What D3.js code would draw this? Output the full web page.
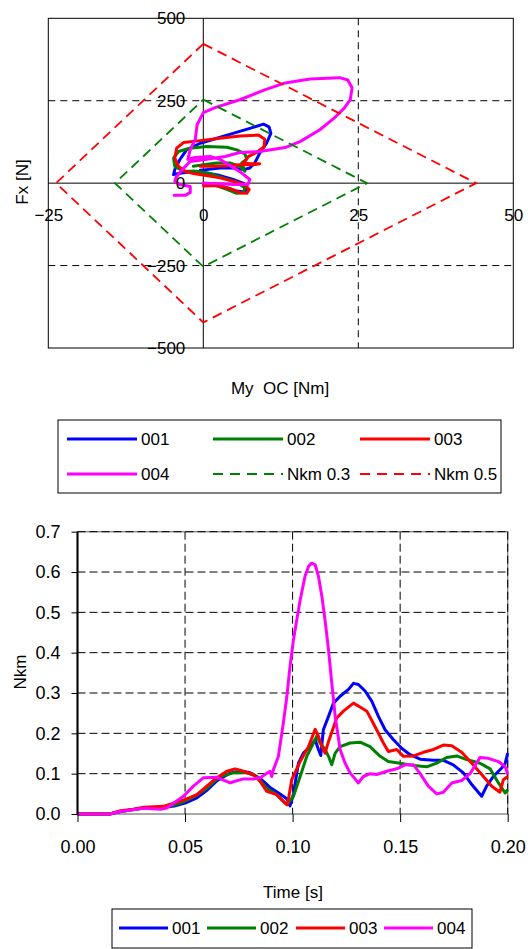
<!DOCTYPE html>
<html>
<head>
<meta charset="utf-8">
<script src="https://cdn.jsdelivr.net/npm/d3@7"></script>
<style>
  body { margin: 0; background: #fff; }
  text { font-family: "Liberation Sans Narrow", "Liberation Sans", Arial, sans-serif; fill: #000; }
</style>
</head>
<body>
<script>
const width = 528
const height = 949

// top chart: My OC [Nm] vs Fx [N]
const xTicksTop = [-25, 0, 25, 50]
const yTicksTop = [-500, -250, 0, 250, 500]
const traj001 = [[0,0],[1.6,-2],[3.8,-14],[5.4,-24],[6.5,-27],[7.1,-17],[6.5,-1],[4.8,11],[2.7,23],[0.5,31],[-1.6,36],[-3.5,31],[-4.8,26],[-4.6,41],[-3.8,71],[-2.7,101],[-0.5,121],[2.2,136],[4.8,151],[7.5,166],[9.7,179],[10.6,171],[10.9,151],[10.2,121],[9.1,91],[8.3,61],[7.5,46],[6.5,41],[4.8,46],[2.7,46],[0.5,41],[-0.5,39]]
const traj002 = [[0,0],[1.6,-4],[3.8,-19],[5.4,-31],[6.5,-29],[6.7,-14],[5.4,3],[3.2,16],[1.1,29],[-1.1,36],[-3.2,36],[-4.6,51],[-4.8,76],[-4.0,96],[-2.2,106],[0.5,111],[3.8,109],[5.4,101],[6.7,89],[7.0,73],[6.2,61],[6.5,46],[6.7,36],[5.9,51],[4.3,61],[2.2,61],[0,56],[-1.6,51]]
const traj003 = [[0,0],[0.1,-9],[2.2,-7],[4.3,-17],[5.9,-29],[7.0,-31],[7.4,-19],[6.7,-4],[4.8,6],[2.7,16],[0.5,23],[-1.6,29],[-3.0,36],[-4.0,51],[-4.6,76],[-4.3,106],[-3.2,123],[-0.5,129],[2.7,136],[5.9,143],[8.9,146],[9.9,133],[9.8,111],[8.6,93],[7.3,81],[6.5,61],[7.5,59],[9.1,59],[8.1,56],[5.9,56],[3.8,53],[1.6,51],[-0.5,51]]
const traj004 = [[0,0],[1.9,-1],[5.1,-4],[7.2,-4],[7.5,11],[5.9,35],[4.0,57],[2.7,72],[1.1,81],[-1.3,78],[-2.5,72],[-2.1,102],[-1.3,132],[-1.0,177],[0,214],[1.9,229],[5.9,253],[9.9,283],[13.2,304],[17.2,316],[22.0,320],[23.3,313],[24.0,289],[23.7,253],[22.8,229],[21.2,199],[18.8,162],[15.6,126],[13.2,108],[9.1,96],[5.9,93],[3.5,81],[0.3,72],[-2.1,66],[-3.4,41],[-4.4,17],[-4.6,5],[-3.8,-4],[-2.1,-10],[-2.1,-28],[-2.9,-37],[-4.7,-37]]
const nkm03 = [[0,253.5],[26.4,0],[0,-253.5],[-14.25,0],[0,253.5]]
const nkm05 = [[0,422.5],[44,0],[0,-422.5],[-23.75,0],[0,422.5]]

// bottom chart: Nkm vs time
const xTicksBot = [0, 0.05, 0.10, 0.15, 0.20]
const yTicksBot = [0, 0.1, 0.2, 0.3, 0.4, 0.5, 0.6, 0.7]
const nkm001 = [[0,0],[0.015,0],[0.02,0.006],[0.026,0.011],[0.031,0.015],[0.04,0.017],[0.045,0.02],[0.05,0.027],[0.0555,0.04],[0.06,0.058],[0.065,0.083],[0.071,0.102],[0.0756,0.106],[0.08,0.103],[0.085,0.088],[0.0895,0.066],[0.094,0.05],[0.0973,0.038],[0.0988,0.02],[0.1004,0.05],[0.1027,0.126],[0.105,0.151],[0.1081,0.167],[0.1105,0.184],[0.112,0.16],[0.1131,0.145],[0.1143,0.209],[0.1167,0.242],[0.119,0.275],[0.1221,0.292],[0.126,0.309],[0.1283,0.324],[0.1306,0.321],[0.1337,0.305],[0.1368,0.28],[0.1399,0.242],[0.143,0.209],[0.1469,0.184],[0.1507,0.163],[0.1546,0.147],[0.1593,0.136],[0.1655,0.133],[0.1701,0.133],[0.1747,0.122],[0.1794,0.102],[0.1833,0.073],[0.1879,0.044],[0.1902,0.069],[0.1933,0.093],[0.1972,0.114],[0.1988,0.125],[0.2,0.151]]
const nkm002 = [[0,0],[0.015,0],[0.02,0.006],[0.026,0.011],[0.031,0.015],[0.04,0.017],[0.045,0.022],[0.0497,0.031],[0.055,0.045],[0.0601,0.064],[0.0663,0.093],[0.0725,0.102],[0.0787,0.102],[0.0833,0.093],[0.088,0.064],[0.0926,0.048],[0.0973,0.023],[0.1004,0.044],[0.1035,0.093],[0.1066,0.143],[0.1097,0.176],[0.1112,0.193],[0.1128,0.176],[0.1151,0.16],[0.1167,0.143],[0.1182,0.122],[0.1198,0.151],[0.1221,0.167],[0.1267,0.176],[0.1314,0.178],[0.136,0.167],[0.1407,0.143],[0.1445,0.13],[0.15,0.126],[0.1562,0.12],[0.1624,0.117],[0.167,0.126],[0.1716,0.14],[0.1763,0.144],[0.1809,0.135],[0.1871,0.126],[0.1918,0.112],[0.1957,0.077],[0.1988,0.052],[0.2,0.06]]
const nkm003 = [[0,0],[0.015,0],[0.02,0.008],[0.026,0.012],[0.0307,0.017],[0.04,0.019],[0.0446,0.027],[0.0497,0.035],[0.0555,0.048],[0.0601,0.069],[0.0648,0.09],[0.0694,0.106],[0.0733,0.112],[0.0771,0.106],[0.0818,0.098],[0.0849,0.081],[0.088,0.056],[0.0926,0.048],[0.0965,0.027],[0.0976,0.023],[0.0996,0.085],[0.1035,0.13],[0.1074,0.167],[0.1105,0.21],[0.112,0.193],[0.1136,0.167],[0.1151,0.151],[0.1167,0.18],[0.1205,0.238],[0.1236,0.255],[0.1283,0.275],[0.1321,0.263],[0.1345,0.255],[0.1383,0.217],[0.1422,0.176],[0.1445,0.155],[0.1484,0.16],[0.1515,0.143],[0.1562,0.144],[0.1608,0.153],[0.1655,0.16],[0.1701,0.171],[0.174,0.169],[0.1786,0.153],[0.1833,0.126],[0.1879,0.098],[0.1926,0.069],[0.1964,0.054],[0.198,0.085],[0.2,0.093]]
const nkm004 = [[0,0],[0.015,0],[0.02,0.006],[0.031,0.014],[0.0386,0.012],[0.0415,0.015],[0.0448,0.027],[0.0493,0.044],[0.0539,0.069],[0.0586,0.09],[0.0648,0.091],[0.071,0.077],[0.0725,0.08],[0.0771,0.087],[0.0818,0.087],[0.0849,0.09],[0.0872,0.098],[0.0895,0.106],[0.0903,0.093],[0.0911,0.11],[0.0934,0.143],[0.0957,0.226],[0.0973,0.29],[0.0988,0.366],[0.1004,0.432],[0.1019,0.48],[0.1035,0.53],[0.1058,0.59],[0.1074,0.614],[0.1089,0.622],[0.1105,0.618],[0.112,0.59],[0.1136,0.54],[0.1151,0.48],[0.1167,0.407],[0.1182,0.325],[0.1198,0.242],[0.1221,0.16],[0.1244,0.126],[0.1267,0.102],[0.1306,0.077],[0.1329,0.093],[0.136,0.1],[0.1391,0.098],[0.1438,0.106],[0.1484,0.112],[0.1523,0.122],[0.1562,0.122],[0.1593,0.1],[0.1631,0.069],[0.167,0.05],[0.1701,0.054],[0.174,0.077],[0.1786,0.083],[0.1825,0.1],[0.1871,0.14],[0.191,0.138],[0.1957,0.13],[0.1988,0.118],[0.2,0.098]]

const seriesNames = ['001', '002', '003', '004']
const seriesColors = ['#0000ff', '#008000', '#ff0000', '#ff00ff']

const svg = d3.select('body')
        .append('svg')
        .attr('width', width)
        .attr('height', height)

// ---------- top chart ----------
const xTop = d3.scaleLinear().domain([-25, 50]).range([48.3, 513.3])
const yTop = d3.scaleLinear().domain([-500, 500]).range([348, 18.3])

const topChart = svg.append('g')

topChart.append('rect')
        .attr('x', xTop(-25)).attr('y', yTop(500))
        .attr('width', xTop(50) - xTop(-25)).attr('height', yTop(-500) - yTop(500))
        .attr('fill', 'none').attr('stroke', '#000').attr('stroke-width', 1)

topChart.selectAll('.hgrid')
        .data([-250, 250])
        .join('line')
        .attr('x1', xTop(-25)).attr('x2', xTop(50))
        .attr('y1', d => yTop(d)).attr('y2', d => yTop(d))
        .attr('stroke', '#000').attr('stroke-dasharray', '7,5')

topChart.append('line')
        .attr('x1', xTop(25)).attr('x2', xTop(25))
        .attr('y1', yTop(500)).attr('y2', yTop(-500))
        .attr('stroke', '#000').attr('stroke-dasharray', '7,5')

topChart.append('line')
        .attr('x1', xTop(-25)).attr('x2', xTop(50))
        .attr('y1', yTop(0)).attr('y2', yTop(0))
        .attr('stroke', '#000')
topChart.append('line')
        .attr('x1', xTop(0)).attr('x2', xTop(0))
        .attr('y1', yTop(500)).attr('y2', yTop(-500))
        .attr('stroke', '#000')

const lineTop = d3.line().x(d => xTop(d[0])).y(d => yTop(d[1]))

;[traj001, traj002, traj003, traj004].forEach((s, i) => {
    topChart.append('path')
        .datum(s)
        .attr('d', lineTop)
        .attr('fill', 'none')
        .attr('stroke', seriesColors[i])
        .attr('stroke-width', 3)
        .attr('stroke-linejoin', 'round')
        .attr('stroke-linecap', 'round')
})

topChart.append('path').datum(nkm03).attr('d', lineTop)
        .attr('fill', 'none').attr('stroke', '#008000').attr('stroke-width', 1.8).attr('stroke-dasharray', '10,6')
topChart.append('path').datum(nkm05).attr('d', lineTop)
        .attr('fill', 'none').attr('stroke', '#ff0000').attr('stroke-width', 1.8).attr('stroke-dasharray', '10,6')

const yAxisTop = d3.axisLeft(yTop).tickValues(yTicksTop).tickSize(0).tickPadding(18).tickFormat(d3.format('d'))
topChart.append('g')
        .attr('transform', `translate(${xTop(0)},0)`)
        .call(yAxisTop)
        .call(g => g.select('.domain').remove())
        .selectAll('text').attr('font-size', 17).style('font-family', null)

const xAxisTop = d3.axisBottom(xTop).tickValues(xTicksTop).tickSize(0).tickPadding(26).tickFormat(d3.format('d'))
topChart.append('g')
        .attr('transform', `translate(0,${yTop(0)})`)
        .call(xAxisTop)
        .call(g => g.select('.domain').remove())
        .selectAll('text').attr('font-size', 17).style('font-family', null)

svg.append('text')
        .text('Fx [N]')
        .attr('font-size', 17)
        .attr('text-anchor', 'middle')
        .attr('transform', 'translate(28,182) rotate(-90)')

svg.append('text')
        .text('My  OC [Nm]')
        .style('white-space', 'pre')
        .attr('font-size', 17)
        .attr('text-anchor', 'middle')
        .attr('x', 280).attr('y', 394)

// legend 1
const legend1 = svg.append('g')
legend1.append('rect')
        .attr('x', 58).attr('y', 420).attr('width', 443).attr('height', 73)
        .attr('fill', '#fff').attr('stroke', '#000')
const legend1Items = [
    {name: '001', color: '#0000ff', dash: null, x: 67, y: 439},
    {name: '002', color: '#008000', dash: null, x: 213, y: 439},
    {name: '003', color: '#ff0000', dash: null, x: 360, y: 439},
    {name: '004', color: '#ff00ff', dash: null, x: 67, y: 474},
    {name: 'Nkm 0.3', color: '#008000', dash: '10,7', x: 213, y: 474},
    {name: 'Nkm 0.5', color: '#ff0000', dash: '10,7', x: 360, y: 474}
]
legend1.selectAll('line')
        .data(legend1Items)
        .join('line')
        .attr('x1', d => d.x).attr('x2', d => d.x + 70)
        .attr('y1', d => d.y).attr('y2', d => d.y)
        .attr('stroke', d => d.color)
        .attr('stroke-width', d => d.dash ? 2 : 3)
        .attr('stroke-dasharray', d => d.dash)
legend1.selectAll('text')
        .data(legend1Items)
        .join('text')
        .text(d => d.name)
        .attr('x', d => d.x + 74).attr('y', d => d.y)
        .attr('dy', '0.36em')
        .attr('font-size', 17)

// ---------- bottom chart ----------
const xBot = d3.scaleLinear().domain([0, 0.2]).range([77.5, 507.7])
const yBot = d3.scaleLinear().domain([0, 0.7]).range([814, 531.7])

const botChart = svg.append('g')

botChart.append('rect')
        .attr('x', xBot(0)).attr('y', yBot(0.7))
        .attr('width', xBot(0.2) - xBot(0)).attr('height', yBot(0) - yBot(0.7))
        .attr('fill', 'none').attr('stroke', '#8c8c8c').attr('stroke-width', 1.5)

botChart.selectAll('.hgrid')
        .data(yTicksBot.slice(1))
        .join('line')
        .attr('x1', xBot(0)).attr('x2', xBot(0.2))
        .attr('y1', d => yBot(d)).attr('y2', d => yBot(d))
        .attr('stroke', '#000').attr('stroke-dasharray', '8,4')

botChart.selectAll('.vgrid')
        .data(xTicksBot.slice(1))
        .join('line')
        .attr('x1', d => xBot(d)).attr('x2', d => xBot(d))
        .attr('y1', yBot(0.7)).attr('y2', yBot(0))
        .attr('stroke', '#000').attr('stroke-dasharray', '8,4')

const lineBot = d3.line().x(d => xBot(d[0])).y(d => yBot(d[1]))

;[nkm001, nkm002, nkm003, nkm004].forEach((s, i) => {
    botChart.append('path')
        .datum(s)
        .attr('d', lineBot)
        .attr('fill', 'none')
        .attr('stroke', seriesColors[i])
        .attr('stroke-width', 3)
        .attr('stroke-linejoin', 'round')
})

botChart.append('line')
        .attr('x1', xBot(0)).attr('x2', xBot(0))
        .attr('y1', yBot(0.7)).attr('y2', yBot(0))
        .attr('stroke', '#000').attr('stroke-width', 2)

const yAxisBot = d3.axisLeft(yBot).tickValues(yTicksBot).tickSize(6).tickPadding(11).tickFormat(d3.format('.1f'))
botChart.append('g')
        .attr('transform', `translate(${xBot(0)},0)`)
        .call(yAxisBot)
        .call(g => g.select('.domain').remove())
        .selectAll('text').attr('font-size', 18).style('font-family', null)

const xAxisBot = d3.axisBottom(xBot).tickValues(xTicksBot).tickSize(8).tickPadding(18).tickFormat(d3.format('.2f'))
botChart.append('g')
        .attr('transform', `translate(0,${yBot(0)})`)
        .call(xAxisBot)
        .call(g => g.select('.domain').remove())
        .selectAll('text').attr('font-size', 18).style('font-family', null)

svg.append('text')
        .text('Nkm')
        .attr('font-size', 17)
        .attr('text-anchor', 'middle')
        .attr('transform', 'translate(26,672) rotate(-90)')

svg.append('text')
        .text('Time [s]')
        .attr('font-size', 17)
        .attr('text-anchor', 'middle')
        .attr('x', 293).attr('y', 898)

// legend 2
const legend2 = svg.append('g')
legend2.append('rect')
        .attr('x', 112).attr('y', 909).attr('width', 360).attr('height', 39)
        .attr('fill', '#fff').attr('stroke', '#000')
const legend2X = [119, 207, 296, 384]
legend2.selectAll('line')
        .data(seriesNames)
        .join('line')
        .attr('x1', (d, i) => legend2X[i]).attr('x2', (d, i) => legend2X[i] + 49)
        .attr('y1', 928).attr('y2', 928)
        .attr('stroke', (d, i) => seriesColors[i])
        .attr('stroke-width', 3)
legend2.selectAll('text')
        .data(seriesNames)
        .join('text')
        .text(d => d)
        .attr('x', (d, i) => legend2X[i] + 53).attr('y', 928)
        .attr('dy', '0.36em')
        .attr('font-size', 17)
</script>
</body>
</html>
